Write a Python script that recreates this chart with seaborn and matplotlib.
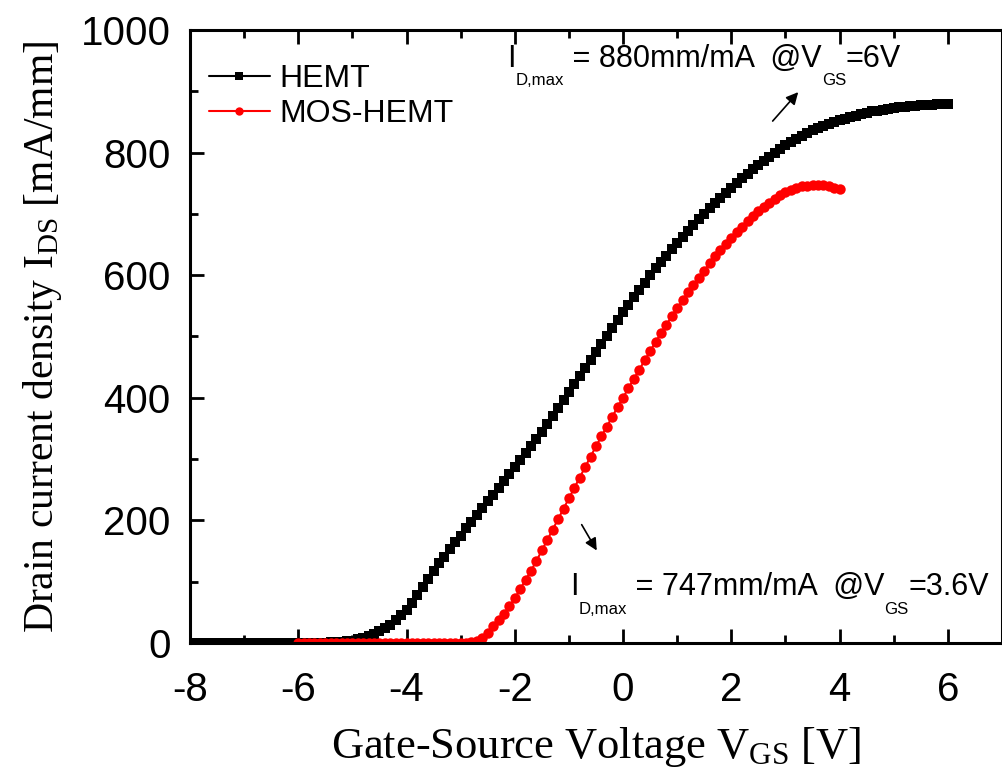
import numpy as np
import pandas as pd
import matplotlib
matplotlib.use("Agg")
import matplotlib.pyplot as plt
from matplotlib import transforms
import seaborn as sns

# gate voltage sweeps (0.1 V step)
vgs_hemt = np.round(np.arange(-80, 61) / 10, 1)
vgs_mos = np.round(np.arange(-60, 41) / 10, 1)

# drain current density, mA/mm
ids_hemt = [0] * 25 + [
    0, 1, 1, 2, 3, 4, 6, 8, 11, 15, 19, 24, 30, 37, 45,
    54, 66, 79, 92, 105, 118, 130, 141, 153, 164, 175, 187, 198,
    209, 220, 231, 242, 253, 264, 275, 287, 298, 310, 322, 333, 345,
    358, 371, 384, 397, 410, 423, 436, 449, 462, 475, 488, 501, 514, 527,
    540, 552, 564, 576, 588, 600, 611, 621, 632, 642, 652,
    662, 672, 682, 691, 700, 709, 717, 726, 734, 742,
    750, 758, 765, 773, 780, 787, 793, 800, 806, 812,
    817, 822, 827, 832, 836, 840, 843, 847, 850, 853,
    855, 858, 860, 863, 865, 867, 868, 870, 871, 873,
    874, 875, 876, 876, 877, 878, 878, 879, 879, 880,
]
ids_mos = [0] * 32 + [
    1, 4, 9, 17, 27, 38, 48, 60, 73, 88, 103, 118, 134, 151, 168,
    185, 202, 219, 236, 253, 270, 287, 304, 321, 337, 353, 369, 385,
    400, 416, 431, 446, 461, 476, 491, 505, 519, 533, 546,
    559, 572, 584, 596, 607, 620, 631, 641, 651, 661,
    670, 679, 688, 696, 704, 711, 718, 724, 730, 735,
    739, 742, 745, 746, 747, 747, 747, 745, 743, 741,
]

# annotation pieces: (text, is_subscript)
note_hemt = [("I", False), ("D,max", True), (" = 880mm/mA  @V", False), ("GS", True), ("=6V", False)]
note_mos = [("I", False), ("D,max", True), (" = 747mm/mA  @V", False), ("GS", True), ("=3.6V", False)]

sns.set_style("ticks")
plt.rcParams["font.family"] = ["Liberation Sans", "DejaVu Sans"]
plt.rcParams["mathtext.fontset"] = "custom"
plt.rcParams["mathtext.rm"] = "Liberation Serif"
plt.rcParams["axes.unicode_minus"] = False
for k in ["text.color", "axes.labelcolor", "xtick.color", "ytick.color", "axes.edgecolor"]:
    plt.rcParams[k] = "black"

fig = plt.figure(figsize=(10.03, 7.8), dpi=100)
ax = fig.add_axes([0.1894, 0.1756, 0.8096, 0.786])

sns.lineplot(x=vgs_hemt, y=ids_hemt, ax=ax, color="black", marker="s",
             markersize=6.5, markeredgewidth=0, linewidth=1.5, label="HEMT")
sns.lineplot(x=vgs_mos, y=ids_mos, ax=ax, color="red", marker="o",
             markersize=7.5, markeredgewidth=0, linewidth=1.5, label="MOS-HEMT")

ax.set_xlim(-8, 7)
ax.set_ylim(0, 1000)
ax.set_xticks(np.arange(-8, 7, 2))
ax.set_xticks(np.arange(-7, 7, 2), minor=True)
ax.set_yticks(np.arange(0, 1001, 200))
ax.set_yticks(np.arange(100, 1000, 200), minor=True)
ax.tick_params(which="both", direction="in", top=True, right=False,
               labelsize=29, width=2)
ax.tick_params(which="major", length=10)
ax.tick_params(axis="x", which="major", pad=20)
ax.tick_params(axis="y", which="major", pad=14)
ax.tick_params(which="minor", length=6)
for s in ax.spines.values():
    s.set_linewidth(2.2)
    s.set_visible(True)

ax.set_xlabel(r"Gate-Source Voltage $\mathrm{V_{GS}}$ [V]", family="Liberation Serif",
              fontsize=32, labelpad=12)
ax.set_ylabel(r"Drain current density $\mathrm{I_{DS}}$ [mA/mm]", family="Liberation Serif",
              fontsize=30, labelpad=12)

leg = ax.legend(loc="upper left", frameon=False, fontsize=23, handlelength=1.9,
                handletextpad=0.3, borderaxespad=0.2, labelspacing=0.15,
                bbox_to_anchor=(0.0, 0.975))
for h in leg.legend_handles:
    h.set_markersize(6)


def rich_text(x, y, parts, size=22):
    fig.canvas.draw()
    r = fig.canvas.get_renderer()
    dx = 0
    for s, sub in parts:
        fs = size * 0.55 if sub else size
        dy = -size * 0.6 if sub else 0
        tr = transforms.offset_copy(ax.transData, fig=fig, x=dx, y=dy, units="points")
        t = ax.text(x, y, s, fontsize=fs, transform=tr, va="baseline", ha="left")
        dx += t.get_window_extent(r).width * 72 / fig.dpi


rich_text(-2.14, 940, note_hemt)
rich_text(-0.98, 78, note_mos)
ax.annotate("", xy=(3.27, 902), xytext=(2.73, 848),
            arrowprops=dict(arrowstyle="-|>", color="black", lw=1.2, mutation_scale=18))
ax.annotate("", xy=(-0.46, 147), xytext=(-0.79, 197),
            arrowprops=dict(arrowstyle="-|>", color="black", lw=1.2, mutation_scale=18))

fig.savefig("out.png", dpi=100)
